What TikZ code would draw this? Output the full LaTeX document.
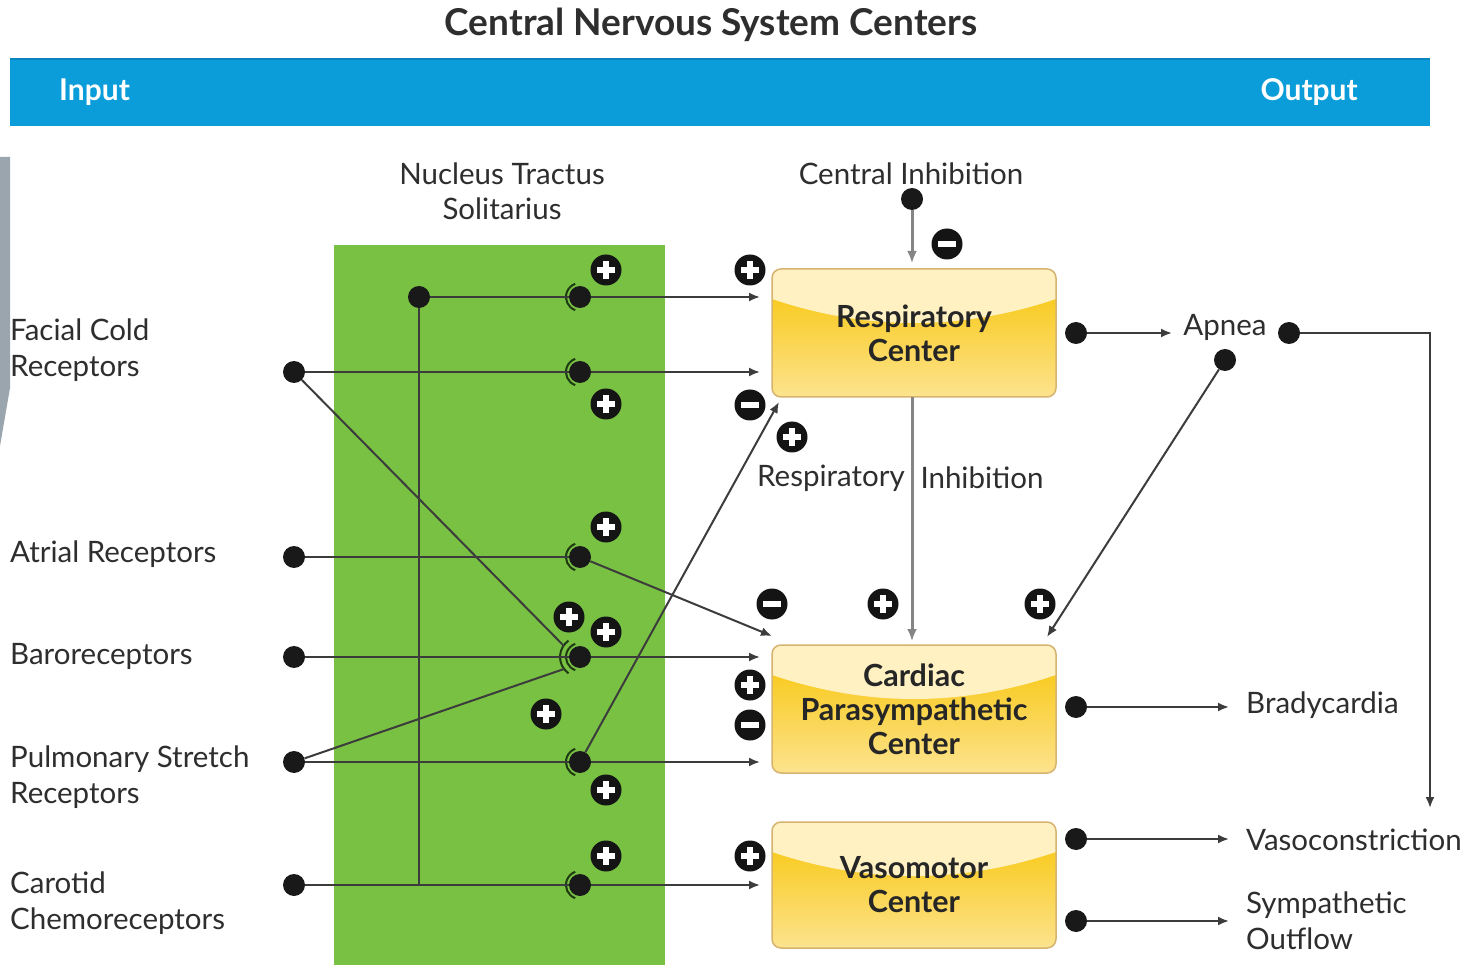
\documentclass[tikz,border=0pt]{standalone}
\usepackage{fontspec}
\setmainfont{Lato}
\usetikzlibrary{arrows.meta,calc}
\definecolor{barblue}{HTML}{0A9DD9}
\definecolor{baredge}{HTML}{0A84BE}
\definecolor{nts}{HTML}{79C143}
\definecolor{ln}{HTML}{3C3C3C}
\definecolor{lgray}{HTML}{858585}
\definecolor{boxedge}{HTML}{D6B36E}
\definecolor{gold}{HTML}{F8C402}
\definecolor{cream}{HTML}{FFF1C2}
\definecolor{paleg}{HTML}{FCE38E}
\definecolor{sideg}{HTML}{9AA5AE}
\definecolor{txt}{HTML}{2E2E2E}
\definecolor{syncol}{HTML}{1E3A12}
\tikzset{
  lbl/.style={font=\fontsize{29.5}{36}\selectfont, text=txt, align=left, anchor=west, inner sep=0pt},
  clbl/.style={font=\fontsize{29.5}{35}\selectfont, text=txt, align=center, inner sep=0pt},
  dotn/.style={circle, fill=black!90, minimum size=22pt, inner sep=0pt},
  conn/.style={draw=ln, line width=2pt},
  arr/.style={conn, -{Latex[length=11pt,width=9pt]}},
  garr/.style={draw=lgray, line width=3pt, -{Latex[length=12pt,width=10pt]}},
  syn/.style={draw=syncol, line width=2pt},
  badge/.style={circle, fill=black!92, minimum size=31pt, inner sep=0pt},
  plusb/.style={badge, path picture={
      \fill[white] ([shift={(-9pt,-3pt)}]path picture bounding box.center) rectangle ++(18pt,6pt);
      \fill[white] ([shift={(-3pt,-9pt)}]path picture bounding box.center) rectangle ++(6pt,18pt);}},
  minusb/.style={badge, path picture={
      \fill[white] ([shift={(-9pt,-3.2pt)}]path picture bounding box.center) rectangle ++(18pt,6.4pt);}},
  ybox/.style={rounded corners=9pt, draw=boxedge, line width=1.5pt, minimum width=284pt, minimum height=#1,
      font=\bfseries\fontsize{30.5}{34}\selectfont, text=black!85, align=center,
      path picture={
        \shade[sharp corners, top color=gold, bottom color=paleg] (path picture bounding box.south west) rectangle (path picture bounding box.north east);
        \fill[sharp corners, cream] (path picture bounding box.north west) -- ([yshift=-30pt]path picture bounding box.north west)
          .. controls ([xshift=95pt,yshift=-62pt]path picture bounding box.north west) and ([xshift=-95pt,yshift=-62pt]path picture bounding box.north east)
          .. ([yshift=-30pt]path picture bounding box.north east) -- (path picture bounding box.north east) -- cycle;
      }},
  ybox/.default=128pt
}
\begin{document}
\begin{tikzpicture}[x=1pt,y=-1pt]
\useasboundingbox (0,0) rectangle (1476,965);
\fill[white] (0,0) rectangle (1476,965);
% side artifact
\fill[sideg] (0,157) -- (10,157) -- (10,388) -- (0,446) -- cycle;
% title and bar
\node[font=\bfseries\fontsize{37}{40}\selectfont, text=txt] (title) at (711,25) {Central Nervous System Centers};
\fill[barblue] (10,58) rectangle (1430,126);
\draw[baredge, line width=2pt] (10,59) -- (1430,59);
\node[font=\bfseries\fontsize{30}{32}\selectfont, text=white, anchor=west, inner sep=0pt] (inp) at (59,92) {Input};
\node[font=\bfseries\fontsize{30}{32}\selectfont, text=white, anchor=east, inner sep=0pt] (outp) at (1358,92) {Output};
% NTS region
\fill[nts] (334,245) rectangle (665,965);
\node[clbl] (ntsl) at (502,191) {Nucleus Tractus\\Solitarius};
\node[clbl] (cil) at (911,174) {Central Inhibition};
% boxes
\node[ybox] (resp) at (914,333) {Respiratory\\Center};
\node[ybox] (card) at (914,709) {Cardiac\\Parasympathetic\\Center};
\node[ybox=126pt] (vaso) at (914,885) {Vasomotor\\Center};
% left labels
\node[lbl] (lf) at (10,350) {Facial Cold\\Receptors};
\node[lbl] (la) at (10,554) {Atrial Receptors};
\node[lbl] (lb) at (10,656) {Baroreceptors};
\node[lbl] (lp) at (10,777) {Pulmonary Stretch\\Receptors};
\node[lbl] (lc) at (10,903) {Carotid\\Chemoreceptors};
% right labels
\node[clbl] (ap) at (1225,327) {Apnea};
\node[lbl] (brady) at (1246,705) {Bradycardia};
\node[lbl] (vcon) at (1246,840) {Vasoconstriction};
\node[lbl] (symp) at (1246,921) {Sympathetic\\Outflow};
\node[clbl] (ri1) at (831,478) {Respiratory};
\node[clbl] (ri2) at (982,478) {Inhibition};
% coordinates
\coordinate (j) at (419,885);
\coordinate (e1) at (760,297);
\coordinate (e2) at (760,372);
\coordinate (e3) at (772,636);
\coordinate (e4) at (760,657);
\coordinate (e5) at (760,762);
\coordinate (e5b) at (779,402);
\coordinate (e6) at (760,885);
\coordinate (bx1) at (564,646);
\coordinate (bx2) at (564,669);
\coordinate (ea) at (1172,333);
\coordinate (corner) at (1430,333);
\coordinate (edown) at (1430,808);
\coordinate (ecard) at (1047,637);
\coordinate (eb) at (1229,707);
\coordinate (ev) at (1229,839);
\coordinate (es) at (1229,921);
\coordinate (eci) at (912,263);
\coordinate (rs) at (912,397);
\coordinate (cn) at (912,641);
% gray inhibition lines
\draw[garr] (rs) -- (cn);
% input dots
\node[dotn] (f) at (294,372) {};
\node[dotn] (a) at (294,557) {};
\node[dotn] (b) at (294,657) {};
\node[dotn] (p) at (294,762) {};
\node[dotn] (c) at (294,885) {};
\node[dotn] (t) at (419,297) {};
% synapses
\node[dotn] (s1) at (580,297) {};
\node[dotn] (s2) at (580,372) {};
\node[dotn] (s3) at (580,557) {};
\node[dotn] (s4) at (580,657) {};
\node[dotn] (s5) at (580,762) {};
\node[dotn] (s6) at (580,885) {};
\foreach \s in {s1,s2,s3,s4,s5,s6}{
  \draw[syn] (\s.center) ++(110:14) arc[start angle=110, end angle=250, radius=14];
}
\draw[syn] (s4.center) ++(125:20) arc[start angle=125, end angle=235, radius=20];
% connectors
\draw[conn] (t) -- (s1);
\draw[arr] (s1) -- (e1);
\draw[conn] (t) -- (j);
\draw[conn] (f) -- (s2);
\draw[arr] (s2) -- (e2);
\draw[conn] (a) -- (s3);
\draw[arr] (s3) -- (e3);
\draw[conn] (b) -- (s4);
\draw[arr] (s4) -- (e4);
\draw[conn] (p) -- (s5);
\draw[arr] (s5) -- (e5);
\draw[conn] (c) -- (s6);
\draw[arr] (s6) -- (e6);
\draw[conn] (f) -- (bx1);
\draw[conn] (p) -- (bx2);
\draw[arr] (s5) -- (e5b);
% outputs
\node[dotn] (ci) at (912,199) {};
\draw[garr] (ci) -- (eci);
\node[dotn] (o1) at (1076,333) {};
\node[dotn] (o2) at (1289,333) {};
\node[dotn] (o3) at (1225,360) {};
\node[dotn] (o4) at (1076,707) {};
\node[dotn] (o5) at (1076,839) {};
\node[dotn] (o6) at (1076,921) {};
\draw[arr] (o1) -- (ea);
\draw[arr] (o2) -- (corner) -- (edown);
\draw[arr] (o3) -- (ecard);
\draw[arr] (o4) -- (eb);
\draw[arr] (o5) -- (ev);
\draw[arr] (o6) -- (es);
% badges
\node[plusb] (b1) at (606,270) {};
\node[plusb] (b2) at (750,270) {};
\node[plusb] (b3) at (606,404) {};
\node[minusb] (b4) at (750,405) {};
\node[plusb] (b5) at (792,437) {};
\node[minusb] (b6) at (947,244) {};
\node[plusb] (b7) at (606,527) {};
\node[plusb] (b8) at (569,617) {};
\node[plusb] (b9) at (606,632) {};
\node[minusb] (b10) at (772,604) {};
\node[plusb] (b11) at (883,604) {};
\node[plusb] (b12) at (1040,604) {};
\node[plusb] (b13) at (750,685) {};
\node[minusb] (b14) at (750,725) {};
\node[plusb] (b15) at (546,714) {};
\node[plusb] (b16) at (606,790) {};
\node[plusb] (b17) at (606,856) {};
\node[plusb] (b18) at (750,856) {};
\end{tikzpicture}
\end{document}
